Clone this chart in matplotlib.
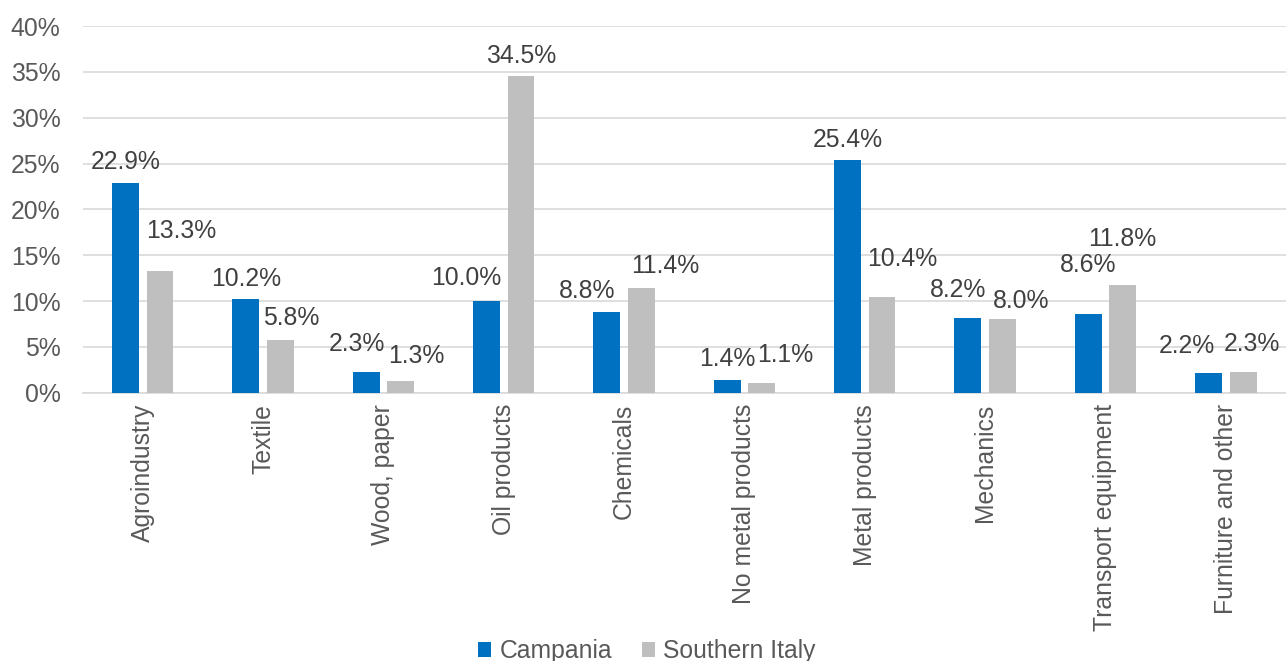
import numpy as np
import matplotlib
matplotlib.use("Agg")
import matplotlib.pyplot as plt
from matplotlib.ticker import PercentFormatter

plt.rcParams['font.family'] = ['Liberation Sans', 'DejaVu Sans']

# manufacturing sectors, share of exports (%)
sectors = ['Agroindustry', 'Textile', 'Wood, paper', 'Oil products', 'Chemicals',
           'No metal products', 'Metal products', 'Mechanics', 'Transport equipment',
           'Furniture and other']
campania = [22.9, 10.2, 2.3, 10.0, 8.8, 1.4, 25.4, 8.2, 8.6, 2.2]
south_italy = [13.3, 5.8, 1.3, 34.5, 11.4, 1.1, 10.4, 8.0, 11.8, 2.3]

# label nudges in pixels (dx, dy above bar top), hand-placed to avoid overlaps
camp_off = [(0, 21), (0, 20), (-9, 28), (-20, 23), (-20, 21),
            (0, 21), (0, 20), (-10, 28), (0, 49), (-22, 27)]
south_off = [(21, 40), (11, 22), (16, 25), (0, 20), (24, 22),
             (24, 28), (20, 38), (19, 18), (0, 46), (9, 28)]

blue = '#0070C0'
grey = '#BFBFBF'
fs = 17.8

fig = plt.figure(figsize=(12.86, 6.61), dpi=100)
ax = fig.add_axes([82.6 / 1286, 1 - 392.7 / 661, (1286 - 82.6) / 1286, (392.7 - 26) / 661])

x = np.arange(len(sectors))
w = 0.224
step = 0.286
b1 = ax.bar(x - step / 2, campania, w, color=blue, label='Campania', zorder=3)
b2 = ax.bar(x + step / 2, south_italy, w, color=grey, label='Southern Italy', zorder=3)

for bars, vals, offs in ((b1, campania, camp_off), (b2, south_italy, south_off)):
    for bar, v, (dx, dy) in zip(bars, vals, offs):
        ax.annotate(f'{v:.1f}%', (bar.get_x() + bar.get_width() / 2, v),
                    xytext=(dx, dy), textcoords='offset pixels',
                    ha='center', va='center', fontsize=fs, color='#404040')

ax.set_xlim(-0.5, 9.5)
ax.set_ylim(0, 40)
ax.set_yticks(np.arange(0, 41, 5))
ax.yaxis.set_major_formatter(PercentFormatter(decimals=0))
ax.set_xticks(x)
ax.set_xticklabels(sectors, rotation=90, va='top', ha='center')
ax.tick_params(axis='both', length=0, labelsize=fs, labelcolor='#595959')
ax.tick_params(axis='y', pad=16)
ax.tick_params(axis='x', pad=8)
ax.grid(axis='y', color='#D9D9D9', linewidth=1.2, zorder=0)
for side in ('top', 'right', 'left'):
    ax.spines[side].set_visible(False)
ax.spines['bottom'].set_color('#D9D9D9')
ax.spines['bottom'].set_linewidth(1.2)

fig.legend(handles=[b1, b2], loc='center', bbox_to_anchor=(0.503, 1 - 651 / 661),
           ncol=2, frameon=False, fontsize=fs, labelcolor='#595959',
           handlelength=0.53, handleheight=0.53, handletextpad=0.33,
           columnspacing=1.2, borderpad=0)

fig.savefig('out.png', dpi=100)
